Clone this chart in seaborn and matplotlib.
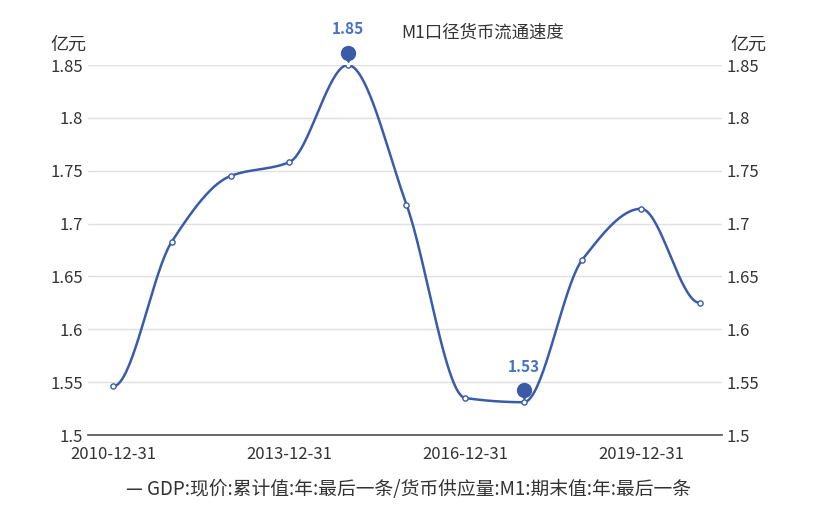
import numpy as np
import matplotlib
matplotlib.use("Agg")
import matplotlib.pyplot as plt
import matplotlib.transforms as mtrans
import seaborn as sns
import pandas as pd

years = ["2010-12-31","2011-12-31","2012-12-31","2013-12-31","2014-12-31","2015-12-31",
         "2016-12-31","2017-12-31","2018-12-31","2019-12-31","2020-12-31"]
values = [1.546, 1.683, 1.745, 1.758, 1.85, 1.718, 1.535, 1.531, 1.666, 1.714, 1.625]
tick_labels = ["2010-12-31", "2013-12-31", "2016-12-31", "2019-12-31"]
series_name = "GDP:现价:累计值:年:最后一条/货币供应量:M1:期末值:年:最后一条"

sns.set_theme(style="white")
plt.rcParams['font.family'] = ['Noto Sans CJK SC', 'DejaVu Sans']

fig = plt.figure(figsize=(8.21, 5.18), dpi=100)
ax = fig.add_axes([88/821, 1-435/518, (722-88)/821, (435-65)/518])
color = "#3a5ca8"

x = np.arange(len(values), dtype=float)
y = np.array(values)
# monotone cubic (Fritsch-Carlson) for display smoothing
d = np.diff(y)
m = np.zeros_like(y)
for i in range(1, len(y) - 1):
    if d[i-1] * d[i] > 0:
        m[i] = 2 / (1/d[i-1] + 1/d[i])
xs, ys = [], []
for i in range(len(y) - 1):
    t = np.linspace(0, 1, 40)
    h00 = 2*t**3 - 3*t**2 + 1; h10 = t**3 - 2*t**2 + t
    h01 = -2*t**3 + 3*t**2; h11 = t**3 - t**2
    xs.extend(x[i] + t)
    ys.extend(h00*y[i] + h10*m[i] + h01*y[i+1] + h11*m[i+1])
ax.plot(xs, ys, color=color, lw=1.8, zorder=2)
df = pd.DataFrame({"x": x, "y": y})
sns.scatterplot(data=df, x="x", y="y", ax=ax, s=14, color="white", edgecolor=color, linewidth=1, zorder=3)

ax.set_xlim(-0.43, 10.38)
ax.set_ylim(1.5, 1.85)
yt = [1.5, 1.55, 1.6, 1.65, 1.7, 1.75, 1.8, 1.85]
ax.set_yticks(yt)
ax.set_yticklabels([f"{v:g}" for v in yt])
ax.set_xticks([years.index(t) for t in tick_labels])
ax.set_xticklabels(tick_labels)
ax.grid(axis='y', color="#e0e0e0", lw=1)
for s in ["top", "right", "left"]:
    ax.spines[s].set_visible(False)
ax.spines["bottom"].set_color("#555")
ax.tick_params(axis='both', labelsize=12, colors="#333", length=0)
ax.tick_params(axis='x', length=5, color="#555", pad=3)
ax.set_xlabel(""); ax.set_ylabel("")

ax2 = ax.twinx()
ax2.set_ylim(1.5, 1.85)
ax2.set_yticks(yt)
ax2.set_yticklabels([f"{v:g}" for v in yt])
for s in ["top", "right", "left", "bottom"]:
    ax2.spines[s].set_visible(False)
ax2.tick_params(axis='y', labelsize=12, colors="#333", length=0)

fig.text(68/821, 1-45/518, "亿元", ha='center', va='center', fontsize=13, color="#333")
fig.text(748/821, 1-45/518, "亿元", ha='center', va='center', fontsize=13, color="#333")
fig.text(483/821, 1-33/518, "M1口径货币流通速度", ha='center', va='center', fontsize=12.5, color="#333")

for idx in [int(np.argmax(y)), int(np.argmin(y))]:
    ax.plot([x[idx]], [y[idx]], marker="v", ms=5, color=color, zorder=4, clip_on=False,
            transform=ax.transData + mtrans.ScaledTranslation(0, 6/100, fig.dpi_scale_trans))
    ax.plot([x[idx]], [y[idx]], marker="o", ms=10, color=color, zorder=4, clip_on=False,
            transform=ax.transData + mtrans.ScaledTranslation(0, 12/100, fig.dpi_scale_trans))
    ax.annotate(f"{y[idx]:.2f}", (x[idx], y[idx]), xytext=(0, 22), textcoords="offset points",
                ha='center', fontsize=11, color="#4a72c4", fontweight='bold', annotation_clip=False)

fig.text(408/821, 1-490/518, "— " + series_name, ha='center', va='center', fontsize=13.5, color="#333")
fig.savefig("out.png", dpi=100)
